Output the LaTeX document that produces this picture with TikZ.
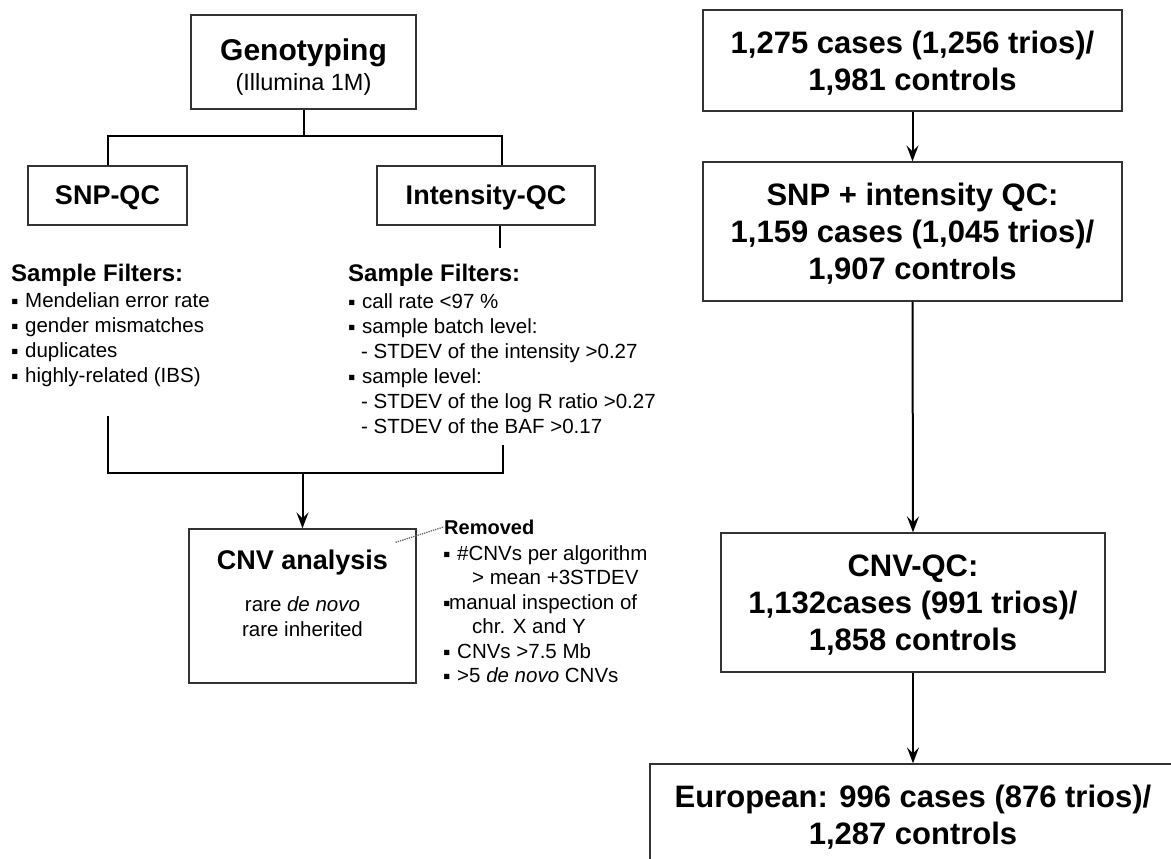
\documentclass[tikz,border=0pt]{standalone}
\usepackage{fontspec}
\setmainfont{Liberation Sans}
\usetikzlibrary{arrows.meta,calc}
\newcommand\bul{\makebox[14pt][l]{\raisebox{-1pt}{\fontsize{21}{21}\selectfont ▪}}}
\newcommand\bulnar{\makebox[6pt][l]{\raisebox{-1pt}{\fontsize{21}{21}\selectfont ▪}}}
\newcommand\sth[1]{\rule{0pt}{#1}}
\newcommand\sdp[1]{\rule[-#1]{0pt}{0pt}}
\begin{document}
\begin{tikzpicture}[x=1pt,y=-1pt,
  box/.style={draw=black!80, line width=1.3pt, inner sep=0pt, align=center},
  conn/.style={line width=2pt, black},
  arr/.style={conn, -{Stealth[length=16pt,width=12pt,inset=6pt]}},
  txt/.style={anchor=base west, inner sep=0pt, font=\fontsize{20.5}{24}\selectfont},
  hdr/.style={anchor=base west, inner sep=0pt, font=\fontsize{24}{28}\selectfont\bfseries},
  big/.style={font=\fontsize{31}{37}\selectfont\bfseries},
  qc/.style={box, minimum height=59pt, font=\fontsize{27}{30}\selectfont\bfseries, text height=20pt, text depth=1.5pt}]
\useasboundingbox (0,0) rectangle (1171,859);
\clip (0,0) rectangle (1171,859);

% ---------- left column ----------
\node[box, minimum width=225pt, minimum height=94pt, font=\fontsize{30}{30.5}\selectfont\bfseries] (geno) at (303.5,62)
  {\sth{32pt}Genotyping\\{\fontsize{23.5}{30.5}\selectfont\mdseries(Illumina 1M)}};
\node[qc, minimum width=159pt] (snp) at (107.5,195.5) {SNP-QC};
\node[qc, minimum width=218pt] (int) at (486,195.5) {Intensity-QC};

\coordinate (j1) at ($(geno.south)+(0,26)$);
\draw[conn] (geno.south) -- (j1);
\draw[conn] (snp.north) |- (j1) -| ([xshift=16pt]int.north);
\draw[conn] ([xshift=14pt]int.south) -- ++(0,22);

% SNP filters
\node[hdr] (sfl) at (11,281) {Sample Filters:};
\node[txt] (sf1) at (11,307) {\bul Mendelian error rate};
\node[txt] (sf2) at (11,332) {\bul gender mismatches};
\node[txt] (sf3) at (11,357) {\bul duplicates};
\node[txt] (sf4) at (11,382) {\bul highly-related (IBS)};

% Intensity filters
\node[hdr] (ifl) at (348,281) {Sample Filters:};
\node[txt] (if1) at (348,308) {\bul call rate <97 \%};
\node[txt] (if2) at (348,333) {\bul sample batch level:};
\node[txt] (if3) at (361,358) {- STDEV of the intensity >0.27};
\node[txt] (if4) at (348,383) {\bul sample level:};
\node[txt] (if5) at (361,408) {- STDEV of the log R ratio >0.27};
\node[txt] (if6) at (361,433) {- STDEV of the BAF >0.17};

% merge
\node[box, minimum width=227pt, minimum height=154pt, font=\fontsize{20.5}{25}\selectfont] (cnv) at (302.5,606)
  {{\fontsize{27}{25}\selectfont\bfseries CNV analysis}\\[16.7pt]rare \textit{de novo}\\rare inherited\sdp{25pt}};
\coordinate (a1) at (108,416);
\coordinate (a2) at (503,445);
\coordinate (j2) at (302.5,473);
\draw[conn] (a1) |- (j2) -| (a2);
\draw[arr] (j2) -- (cnv.north);

% Removed
\node[anchor=base west, inner sep=0pt, font=\fontsize{20}{24}\selectfont\bfseries] (rem) at (444,534) {Removed};
\node[txt] (r1) at (443,560) {\bul\#CNVs per algorithm};
\node[txt] (r2) at (472,584.5) {> mean +3STDEV};
\node[txt] (r3) at (443,609) {\bulnar manual inspection of};
\node[txt] (r4) at (472,633.5) {chr. X and Y};
\node[txt] (r5) at (443,658) {\bul CNVs >7.5 Mb};
\node[txt] (r6) at (443,682.5) {\bul >5 \textit{de novo} CNVs};
\coordinate (d1) at ($(cnv.north east)+(-21,14)$);
\draw[densely dotted, black!60, line width=1.3pt] (d1) -- (rem.west);

% ---------- right column ----------
\node[box, big, minimum width=419pt, minimum height=101pt] (b1) at (912.5,60.5)
  {\sth{28.6pt}1,275 cases (1,256 trios)/\\1,981 controls};
\node[box, big, minimum width=419pt, minimum height=139pt] (b2) at (912.5,231.5)
  {\sth{27.6pt}SNP + intensity QC:\\1,159 cases (1,045 trios)/\\1,907 controls};
\node[box, big, minimum width=384pt, minimum height=139pt] (b3) at (913,602.5)
  {\sth{26pt}CNV-QC:\\1,132cases (991 trios)/\\1,858 controls};
\node[box, big, minimum width=526pt, minimum height=106pt] (b4) at (913,817)
  {European: 996 cases (876 trios)/\\1,287 controls};
\draw[arr] (b1.south) -- (b2.north);
\draw[arr] (b2.south) -- (b3.north);
\draw[arr] (b3.south) -- (b4.north);
\end{tikzpicture}
\end{document}
